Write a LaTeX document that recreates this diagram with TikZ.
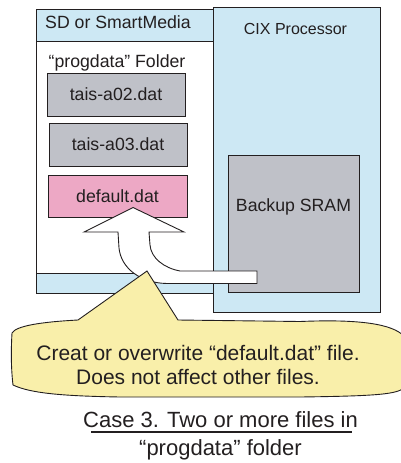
\documentclass[tikz,border=0pt]{standalone}
\usepackage{fontspec}
\setmainfont{Liberation Sans}
\usetikzlibrary{positioning}
\definecolor{cxblue}{RGB}{205,232,244}
\definecolor{cxgrey}{RGB}{191,193,200}
\definecolor{cxpink}{RGB}{237,168,197}
\definecolor{cxyellow}{RGB}{249,239,170}
\definecolor{cxline}{RGB}{35,31,32}
\tikzset{
  cxpanel/.style={
    draw=cxline, fill=cxblue, line width=0.9pt, inner sep=0pt
  },
  cxfolder/.style={cxpanel, fill=white},
  cxfile/.style={
    draw=cxline, fill=cxgrey, line width=0.9pt, inner sep=0pt,
    minimum width=138pt, minimum height=43pt,
    font=\fontsize{17.7}{20}\selectfont, text=cxline
  },
  cxdefault/.style={cxfile, fill=cxpink},
  cxtitle/.style={font=\fontsize{17.7}{20}\selectfont, inner sep=0pt, text=cxline},
  cxbigarrow/.style={draw=cxline, fill=white, line width=0.9pt, line join=miter},
  cxcallout/.style={draw=cxline, fill=cxyellow, line width=0.9pt},
  cxnote/.style={font=\fontsize{21}{24}\selectfont, align=center, inner sep=0pt, text=cxline},
  cxcaption/.style={font=\fontsize{22}{28}\selectfont, align=center, inner sep=0pt, text=cxline}
}
\begin{document}
\begin{tikzpicture}[x=1pt,y=-1pt]
  \useasboundingbox (0,0) rectangle (400,463);

  % (a) CIX processor with its backup SRAM
  \node[cxpanel, minimum width=167pt, minimum height=305pt] (cix) at (296.5,159.5) {};
  \node[cxtitle, font=\fontsize{16}{18}\selectfont] (cixlabel) at (295.5,28.5) {CIX Processor};
  \node[cxfile, minimum width=131pt, minimum height=137pt] (sram) at (293.5,223.5) {};
  \node[cxtitle] (sramlabel) at (293.5,207) {Backup SRAM};

  % (b) SD card and the progdata folder
  \node[cxpanel, minimum width=177pt, minimum height=284pt] (sd) at (124.5,151) {};
  \node[cxtitle, anchor=west] (sdlabel) at (45,22) {SD or SmartMedia};
  \node[cxfolder, minimum width=177pt, minimum height=232pt] (folder) at (124.5,157) {};
  \node[cxtitle] (folderlabel) at (117,62.5) {“progdata” Folder};
  \node[cxfile] (a02) at (116,94.5) {tais-a02.dat};
  \node[cxfile] (a03) at (118,144.5) {tais-a03.dat};
  \node[cxdefault, minimum width=139pt, minimum height=42pt] (default) at (117.5,196) {default.dat};

  % (c) block arrow from SRAM up into default.dat
  \draw[cxbigarrow] (257,271) -- (180,271)
    .. controls (164,268) and (151,258) .. (150,245) -- (149,232)
    -- (184,232) -- (133,207.5) -- (84,232) -- (118,232) -- (119,248)
    .. controls (121,268) and (140,283) .. (167,283.5) -- (257,283.5) -- cycle;

  % (d) callout
  \draw[cxcallout] (12,333) .. controls (16,326) and (40,322) .. (78,320)
    -- (147,271) -- (178,320) -- (300,321.5)
    .. controls (360,319) and (392,324) .. (404,336) -- (404,388)
    .. controls (396,394) and (380,396) .. (300,397) -- (120,397)
    .. controls (60,396) and (30,393) .. (13,385)
    .. controls (11,368) and (11,350) .. cycle;
  \node[cxnote] (note) at (198,365) {Creat or overwrite “default.dat” file.\\Does not affect other files.};

  % (e) caption
  \node[cxcaption] (caption) at (220.5,436) {Case 3. Two or more files in\\“progdata” folder};
  \coordinate (ulstart) at (91,432);
  \coordinate (ulend) at (352,432);
  \draw[cxline, line width=1.1pt] (ulstart) -- (ulend);
\end{tikzpicture}
\end{document}
